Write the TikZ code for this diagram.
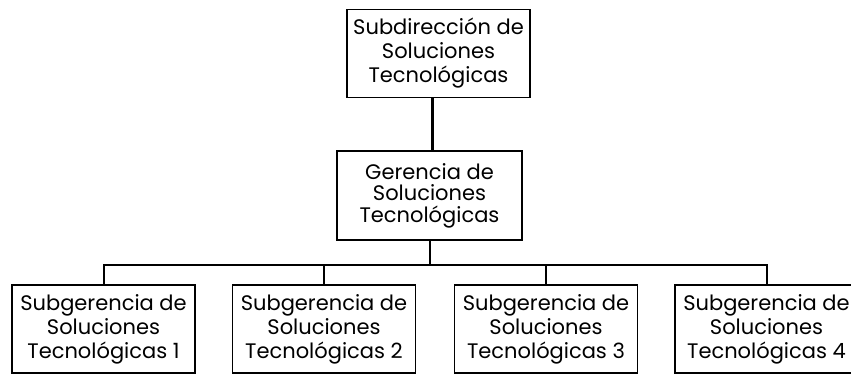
\documentclass[tikz,border=0pt]{standalone}
\usepackage{fontspec}
\setmainfont{Poppins}
\begin{document}
\begin{tikzpicture}[x=1pt,y=-1pt,
  box/.style={draw=black, line width=1.1pt, rectangle, minimum width=183pt, minimum height=88pt, inner sep=0pt, align=center, font=\fontsize{21}{24}\selectfont},
  conn/.style={draw=black, line width=2pt},
  thick conn/.style={draw=black, line width=3pt}]
\useasboundingbox (0,0) rectangle (851,375);
\begin{scope}
\clip (0,0) rectangle (851,375);
\node[box] (top) at (438.5,53.5) {Subdirección de\\Soluciones\\Tecnológicas};
\node[box, minimum width=185pt, minimum height=89pt, font=\fontsize{21}{21.5}\selectfont] (ger) at (429.5,195.5) {Gerencia de\\Soluciones\\Tecnológicas};
\node[box] (c1) at (103.5,329) {Subgerencia de\\Soluciones\\Tecnológicas 1};
\node[box] (c2) at (324,329) {Subgerencia de\\Soluciones\\Tecnológicas 2};
\node[box] (c3) at (546,329) {Subgerencia de\\Soluciones\\Tecnológicas 3};
\node[box] (c4) at (766.5,329) {Subgerencia de\\Soluciones\\Tecnológicas 4};
\coordinate (busy) at (0,265);
\draw[thick conn] (top.south -| 432,0) -- (ger.north -| 432,0);
\draw[conn] (ger.south) -- (ger.south |- busy);
\draw[conn] (c1.north) -- (c1.north |- busy) -- (c4.north |- busy) -- (c4.north);
\draw[conn] (c2.north) -- (c2.north |- busy);
\draw[conn] (c3.north) -- (c3.north |- busy);
\end{scope}
\end{tikzpicture}
\end{document}
